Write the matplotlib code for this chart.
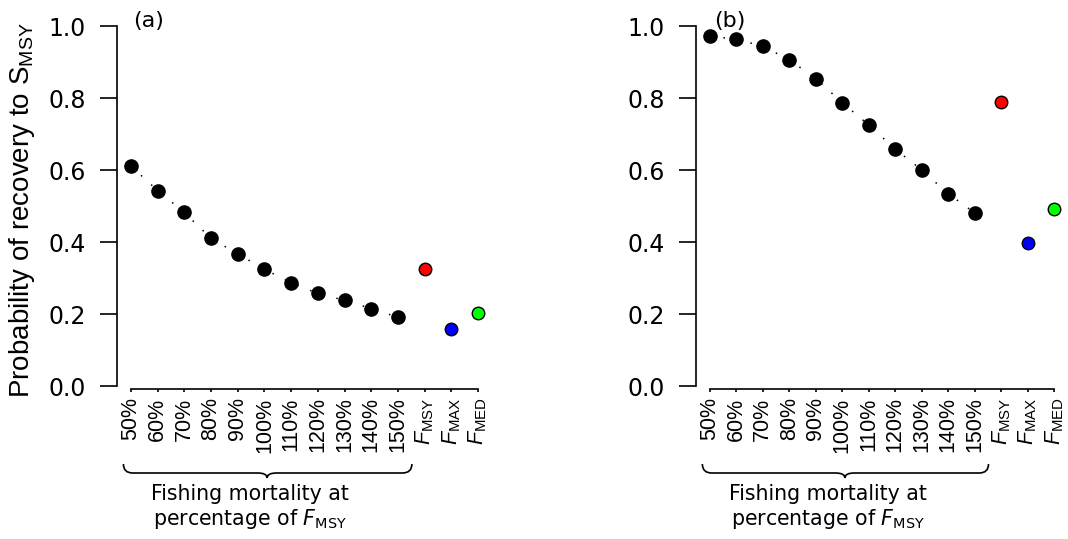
import matplotlib
matplotlib.use("Agg")
import matplotlib.pyplot as plt
from matplotlib.path import Path
from matplotlib.patches import PathPatch
from matplotlib.transforms import blended_transform_factory

plt.rcParams['mathtext.fontset'] = 'custom'
plt.rcParams['mathtext.rm'] = 'Liberation Sans'
plt.rcParams['mathtext.it'] = 'Liberation Sans:italic'
plt.rcParams['mathtext.bf'] = 'Liberation Sans:bold'

# ---- data ----
categories = ["50%", "60%", "70%", "80%", "90%", "100%", "110%", "120%",
              "130%", "140%", "150%", "FMSY", "FMAX", "FMED"]
tick_labels = ["50%", "60%", "70%", "80%", "90%", "100%", "110%", "120%",
               "130%", "140%", "150%",
               r"$\mathit{F}_{\mathrm{MSY}}$",
               r"$\mathit{F}_{\mathrm{MAX}}$",
               r"$\mathit{F}_{\mathrm{MED}}$"]
pct_a = [0.611, 0.543, 0.482, 0.410, 0.367, 0.324, 0.287, 0.257, 0.238, 0.215, 0.191]
ref_a = [0.326, 0.158, 0.202]
pct_b = [0.972, 0.963, 0.944, 0.906, 0.854, 0.787, 0.725, 0.658, 0.600, 0.534, 0.481]
ref_b = [0.788, 0.396, 0.492]
ref_colors = ["#ff0000", "#0000ff", "#00ff00"]
panel_labels = ["(a)", "(b)"]
y_ticks = [0.0, 0.2, 0.4, 0.6, 0.8, 1.0]
y_label = r"Probability of recovery to $\mathrm{S}_{\mathrm{MSY}}$"
group_text_1 = "Fishing mortality at"
group_text_2 = r"percentage of $\mathit{F}_{\mathrm{MSY}}$"

W, H = 1068, 539
fig = plt.figure(figsize=(W / 100, H / 100), dpi=100)


def fy(py):
    return 1 - py / H


axes_px = [(117, 492), (696, 1068)]
panels = [(pct_a, ref_a), (pct_b, ref_b)]
label_px = [133, 714]

x_pos = list(range(1, len(categories) + 1))
n_pct = len(pct_a)

for i, ((xl, xr), (pct, ref)) in enumerate(zip(axes_px, panels)):
    ax = fig.add_axes([xl / W, fy(386), (xr - xl) / W, (386 - 26) / H])
    ax.set_xlim(0.48, len(categories) + 0.52)
    ax.set_ylim(0, 1)
    ax.patch.set_alpha(0)
    for s in ["top", "right"]:
        ax.spines[s].set_visible(False)
    ax.spines["left"].set_bounds(0, 1)
    ax.spines["bottom"].set_bounds(1, len(categories))
    ax.spines["bottom"].set_position(("outward", 2.2))
    for s in ["left", "bottom"]:
        ax.spines[s].set_linewidth(1.2)

    # dotted connecting line, then points
    ax.plot(x_pos[:n_pct], pct, color="black", lw=1.1, linestyle=(0, (1, 8)),
            zorder=2)
    ax.plot(x_pos[:n_pct], pct, "o", color="black", ms=9.5, zorder=3)
    for xp, v, c in zip(x_pos[n_pct:], ref, ref_colors):
        ax.plot([xp], [v], "o", markerfacecolor=c, markeredgecolor="black",
                markeredgewidth=1.0, ms=9.0, zorder=3)

    ax.set_yticks(y_ticks)
    ax.set_yticklabels([f"{t:.1f}" for t in y_ticks], fontfamily="DejaVu Sans",
                       fontsize=17)
    ax.tick_params(axis="y", length=12, width=1.2, pad=10.5)
    ax.set_xticks(x_pos)
    ax.set_xticklabels(tick_labels, rotation=90, fontfamily="Liberation Sans",
                       fontsize=15.5, va="top")
    ax.tick_params(axis="x", length=2.5, width=1.2, pad=3.5)

    if i == 0:
        fig.text(22 / W, fy(210), y_label, rotation=90, ha="center",
                 va="center", fontsize=20, fontfamily="Liberation Sans")

    fig.text(label_px[i] / W, fy(21), panel_labels[i], ha="left", va="center",
             fontsize=16, fontfamily="DejaVu Sans")

    # curly brace under the percentage group
    tr = blended_transform_factory(ax.transData, fig.transFigure)
    x0, x1, xc, r = 0.72, 11.52, 6.1, 0.35
    yt, ym, yb = fy(464), fy(473), fy(478)
    verts = [(x0, yt), (x0, ym), (x0 + r, ym), (xc - r, ym), (xc, ym), (xc, yb),
             (xc, ym), (xc + r, ym), (x1 - r, ym), (x1, ym), (x1, yt)]
    codes = [Path.MOVETO, Path.CURVE3, Path.CURVE3, Path.LINETO, Path.CURVE3,
             Path.CURVE3, Path.CURVE3, Path.CURVE3, Path.LINETO, Path.CURVE3,
             Path.CURVE3]
    fig.add_artist(PathPatch(Path(verts, codes), transform=tr, fill=False,
                             lw=1.2, edgecolor="black"))
    fig.text(5.45, fy(494), group_text_1, transform=tr, ha="center",
             va="center", fontsize=14.8, fontfamily="DejaVu Sans",
             math_fontfamily="dejavusans")
    fig.text(5.45, fy(519), group_text_2, transform=tr, ha="center",
             va="center", fontsize=14.8, fontfamily="DejaVu Sans",
             math_fontfamily="dejavusans")

fig.savefig("out.png", dpi=100)
